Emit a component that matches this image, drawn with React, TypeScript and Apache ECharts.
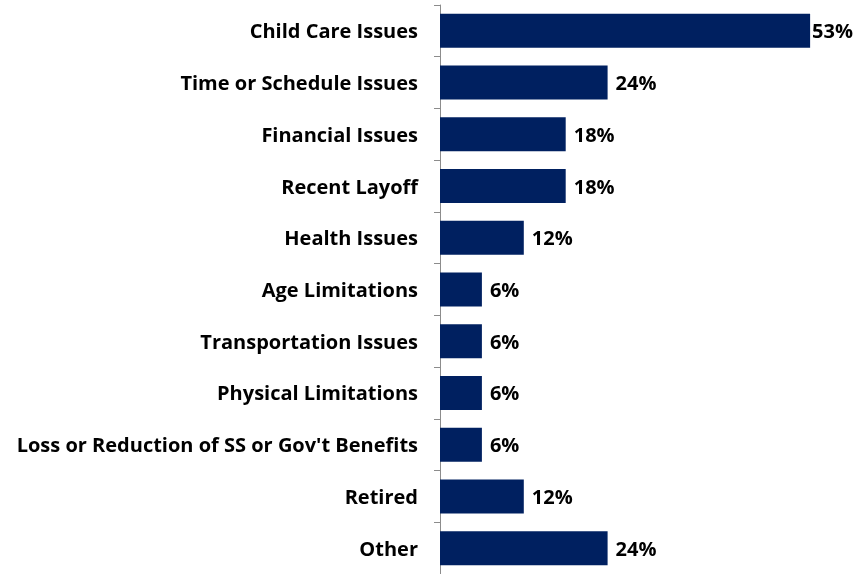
import React, { useEffect, useRef } from "react";
import * as echarts from "echarts";

const categories = [
  "Child Care Issues",
  "Time or Schedule Issues",
  "Financial Issues",
  "Recent Layoff",
  "Health Issues",
  "Age Limitations",
  "Transportation Issues",
  "Physical Limitations",
  "Loss or Reduction of SS or Gov't Benefits",
  "Retired",
  "Other",
];
const values = [53, 24, 18, 18, 12, 6, 6, 6, 6, 12, 24];

const FONT = "'Open Sans', Lato, sans-serif";

export default function App() {
  const ref = useRef<HTMLDivElement>(null);
  useEffect(() => {
    if (!ref.current) return;
    const chart = echarts.init(ref.current, null, { renderer: "svg" });
    chart.setOption({
      animation: false,
      grid: { left: 440, top: 5, width: 419, height: 570 },
      xAxis: {
        type: "value",
        min: 0,
        max: 60,
        show: false,
      },
      yAxis: {
        type: "category",
        data: categories,
        inverse: true,
        axisLine: { show: true, lineStyle: { color: "#8c8c8c", width: 1 } },
        axisTick: { show: true, length: 6, lineStyle: { color: "#8c8c8c" } },
        axisLabel: {
          margin: 22,
          color: "#000",
          fontFamily: FONT,
          fontWeight: "bold",
          fontSize: 20,
        },
      },
      series: [
        {
          type: "bar",
          data: values.map((v, i) =>
            i === 0 ? { value: v, label: { distance: 2 } } : v
          ),
          barWidth: 34,
          itemStyle: { color: "#002060" },
          label: {
            show: true,
            position: "right",
            distance: 8,
            formatter: "{c}%",
            color: "#000",
            fontFamily: FONT,
            fontWeight: "bold",
            fontSize: 20,
          },
        },
      ],
    });
    return () => chart.dispose();
  }, []);
  return <div ref={ref} style={{ width: 861, height: 574, position: "fixed", left: 0, top: 0 }} />;
}
